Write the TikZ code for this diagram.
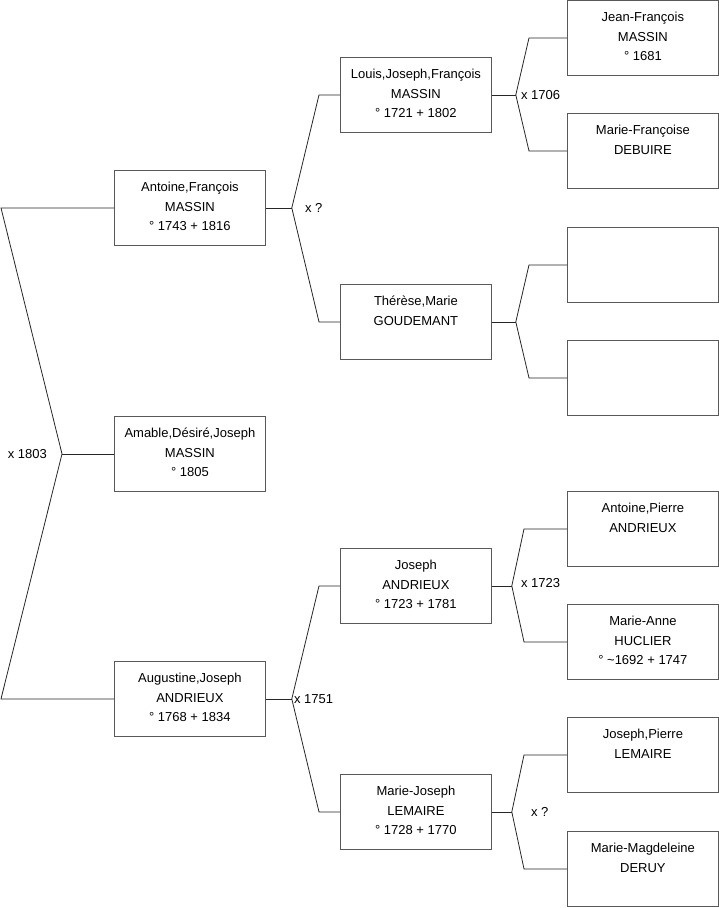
\documentclass[tikz,border=0pt]{standalone}
\usepackage{fontspec}
\setmainfont{Liberation Sans}
\usetikzlibrary{positioning}

\tikzset{
  person/.style={draw=black!65,fill=white,line width=0.8pt,minimum width=151pt,minimum height=75pt,inner sep=0pt,anchor=north west},
  who/.style={anchor=north,align=center,inner sep=0pt,font=\fontsize{13}{19.5}\selectfont},
  wed/.style={inner sep=0pt,font=\fontsize{13}{15}\selectfont},
  link/.style={draw=black!85,line width=0.8pt}
}

\begin{document}
\begin{tikzpicture}[x=1pt,y=-1pt]
\useasboundingbox (0,0) rectangle (719,908);
% generation 1
\node[person] (antoine) at (114,170) {};
\node[person] (amable) at (114,416) {};
\node[person] (augustine) at (114,661) {};
% generation 2
\node[person] (louis) at (340,57) {};
\node[person] (therese) at (340,284) {};
\node[person] (joseph) at (340,548) {};
\node[person] (mariejo) at (340,774) {};
% generation 3
\node[person] (jeanfr) at (567,0) {};
\node[person] (mariefr) at (567,113) {};
\node[person] (empty1) at (567,227) {};
\node[person] (empty2) at (567,340) {};
\node[person] (antpierre) at (567,491) {};
\node[person] (marieanne) at (567,604) {};
\node[person] (jospierre) at (567,717) {};
\node[person] (mariemag) at (567,831) {};

\node[who,below=12pt of antoine.north] (antoine-t) {Antoine,François\\MASSIN\\° 1743 + 1816};
\node[who,below=12pt of amable.north] (amable-t) {Amable,Désiré,Joseph\\MASSIN\\° 1805};
\node[who,below=12pt of augustine.north] (augustine-t) {Augustine,Joseph\\ANDRIEUX\\° 1768 + 1834};
\node[who,below=12pt of louis.north] (louis-t) {Louis,Joseph,François\\MASSIN\\° 1721 + 1802};
\node[who,below=12pt of therese.north] (therese-t) {Thérèse,Marie\\GOUDEMANT};
\node[who,below=12pt of joseph.north] (joseph-t) {Joseph\\ANDRIEUX\\° 1723 + 1781};
\node[who,below=12pt of mariejo.north] (mariejo-t) {Marie-Joseph\\LEMAIRE\\° 1728 + 1770};
\node[who,below=12pt of jeanfr.north] (jeanfr-t) {Jean-François\\MASSIN\\° 1681};
\node[who,below=12pt of mariefr.north] (mariefr-t) {Marie-Françoise\\DEBUIRE};
\node[who,below=12pt of antpierre.north] (antpierre-t) {Antoine,Pierre\\ANDRIEUX};
\node[who,below=12pt of marieanne.north] (marieanne-t) {Marie-Anne\\HUCLIER\\° \textasciitilde1692 + 1747};
\node[who,below=12pt of jospierre.north] (jospierre-t) {Joseph,Pierre\\LEMAIRE};
\node[who,below=12pt of mariemag.north] (mariemag-t) {Marie-Magdeleine\\DERUY};

% forks
\draw[link] (amable.west) -- ++(-52,0) coordinate (f0);
\draw[link] (antoine.west) -- ++(-113,0) -- (f0) -- ([xshift=-113pt]augustine.west) -- (augustine.west);
\draw[link] (antoine.east) -- ++(26,0) coordinate (f1);
\draw[link] (louis.west) -- ++(-21,0) -- (f1) -- ([xshift=-21pt]therese.west) -- (therese.west);
\draw[link] (augustine.east) -- ++(26,0) coordinate (f2);
\draw[link] (joseph.west) -- ++(-21,0) -- (f2) -- ([xshift=-21pt]mariejo.west) -- (mariejo.west);
\draw[link] (louis.east) -- ++(24,0) coordinate (f3);
\draw[link] (jeanfr.west) -- ++(-38,0) -- (f3) -- ([xshift=-38pt]mariefr.west) -- (mariefr.west);
\draw[link] (therese.east) -- ++(24,0) coordinate (f4);
\draw[link] (empty1.west) -- ++(-38,0) -- (f4) -- ([xshift=-38pt]empty2.west) -- (empty2.west);
\draw[link] (joseph.east) -- ++(20,0) coordinate (f5);
\draw[link] (antpierre.west) -- ++(-43,0) -- (f5) -- ([xshift=-43pt]marieanne.west) -- (marieanne.west);
\draw[link] (mariejo.east) -- ++(20,0) coordinate (f6);
\draw[link] (jospierre.west) -- ++(-43,0) -- (f6) -- ([xshift=-43pt]mariemag.west) -- (mariemag.west);

% marriages
\node[wed,left=15pt of f0] (wed0) {x 1803};
\node[wed,right=13pt of f1] (wed1) {x ?};
\node[wed,right=2pt of f2] (wed2) {x 1751};
\node[wed,right=5pt of f3] (wed3) {x 1706};
\node[wed,right=9pt of f5,yshift=3pt] (wed5) {x 1723};
\node[wed,right=19pt of f6] (wed6) {x ?};
\end{tikzpicture}
\end{document}
